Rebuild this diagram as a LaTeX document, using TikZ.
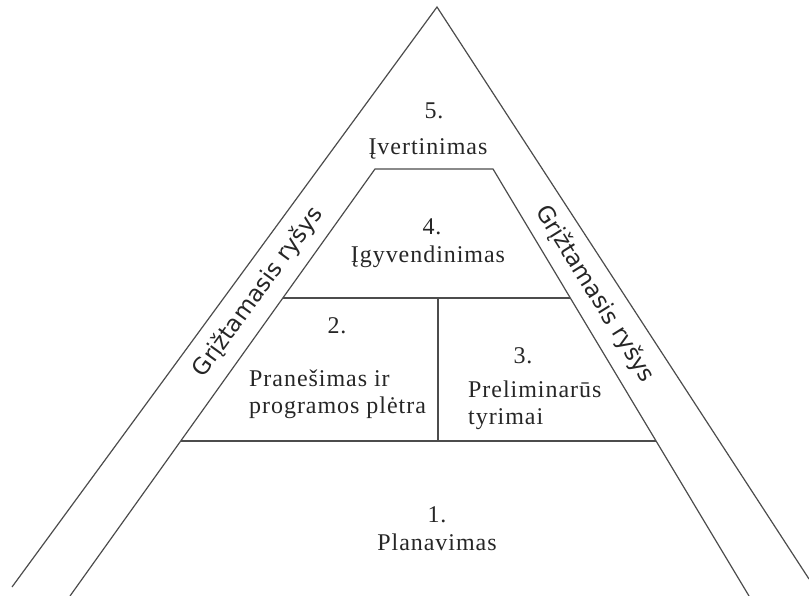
\documentclass[tikz,border=0pt]{standalone}
\usepackage{fontspec}
\newfontfamily\stagefont{Liberation Serif}[LetterSpace=4]
\newfontfamily\loopfont{DejaVu Sans}
\begin{document}
\begin{tikzpicture}[x=1pt,y=-1pt,
  edge/.style={draw=black!70, line width=1.2pt, line join=miter},
  stage/.style={font=\stagefont\fontsize{24}{26.5}\selectfont, text=black!85, inner sep=0pt},
  loop/.style={font=\loopfont\fontsize{23}{26}\selectfont, text=black!85, inner sep=0pt}]
\useasboundingbox (0,0) rectangle (809,596);

% outer triangle
\coordinate (apex)   at (437,7);
\coordinate (outerL) at (12,587);
\coordinate (outerR) at (809,579);
% inner truncated triangle
\coordinate (topL)   at (375,169);
\coordinate (topR)   at (493,169);
\coordinate (innerL) at (70,596);
\coordinate (innerR) at (749,596);
% level dividers
\coordinate (midL) at (282.8,298);
\coordinate (midR) at (570.4,298);
\coordinate (lowL) at (180.5,441);
\coordinate (lowR) at (656.2,441);
\coordinate (midC) at (438,298);
\coordinate (lowC) at (438,441);

\draw[edge] (outerL) -- (apex) -- (outerR);
\draw[edge] (innerL) -- (topL) -- (topR) -- (innerR);
\draw[edge] (midL) -- (midR);
\draw[edge] (lowL) -- (lowR);
\draw[edge] (midC) -- (lowC);

% stage labels
\node[stage, anchor=base] (n5)  at (434,119) {5.};
\node[stage, anchor=base] (t5)  at (428,155) {Įvertinimas};
\node[stage, anchor=base] (n4)  at (432,235) {4.};
\node[stage, anchor=base] (t4)  at (428,262) {Įgyvendinimas};
\node[stage, anchor=base] (n2)  at (337,334) {2.};
\node[stage, anchor=base west, align=left] (t2) at (249,413) {Pranešimas ir\\programos plėtra};
\node[stage, anchor=base] (n3)  at (523,363) {3.};
\node[stage, anchor=base west, align=left] (t3) at (468,424) {Preliminarūs\\tyrimai};
\node[stage, anchor=base] (n1)  at (437,522) {1.};
\node[stage, anchor=base] (t1)  at (437,550) {Planavimas};

% feedback bands
\node[loop, rotate=54]  (fbL) at (258,292) {Grįžtamasis ryšys};
\node[loop, rotate=-58] (fbR) at (595,294) {Grįžtamasis ryšys};
\end{tikzpicture}
\end{document}
